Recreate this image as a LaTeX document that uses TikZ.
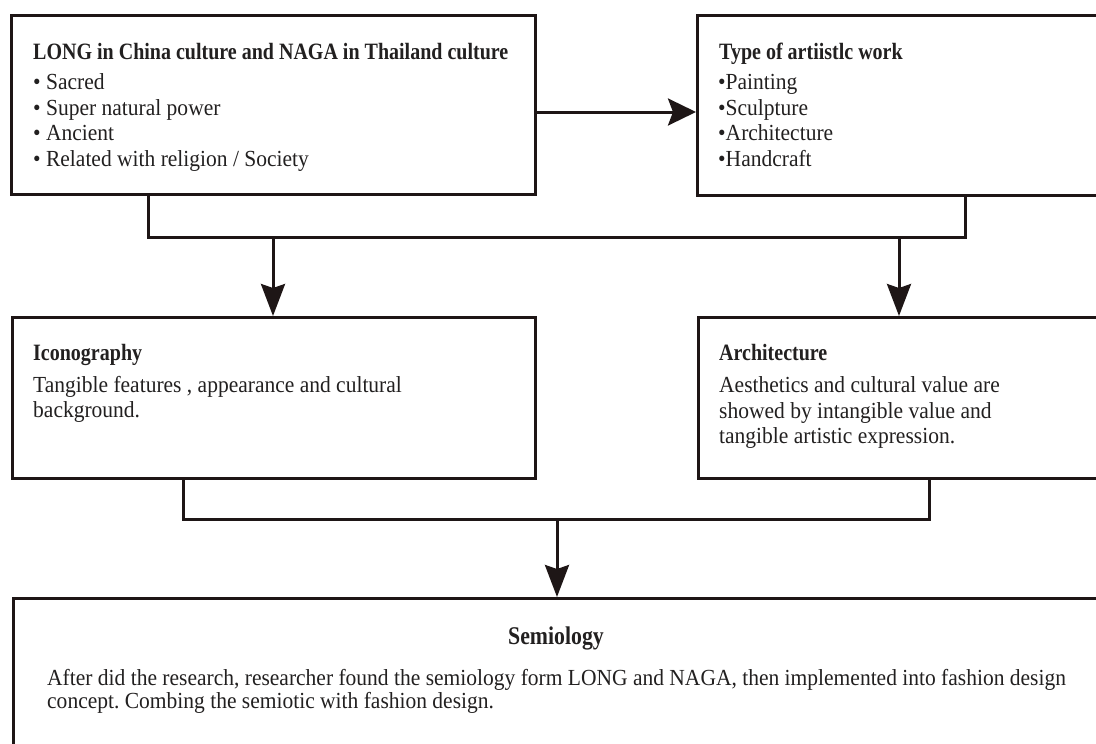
\documentclass[tikz,border=0pt]{standalone}
\usepackage{fontspec}
\setmainfont{Liberation Serif}[FakeStretch=0.935, BoldFeatures={FakeStretch=0.855}]
\usetikzlibrary{arrows.meta}
\frenchspacing

\definecolor{ink}{RGB}{30,22,22}
\definecolor{txt}{RGB}{34,32,32}

\newcommand{\headfont}{\bfseries\fontsize{23.4}{25}\selectfont}
\newcommand{\bigheadfont}{\bfseries\fontsize{25.5}{27}\selectfont}
\newcommand{\bodyfont}{\fontsize{23}{25}\selectfont}

\tikzset{
  box/.style={draw=ink, line width=3pt, rectangle, inner sep=0pt, anchor=north west},
  head/.style={anchor=base west, inner sep=0pt, text=txt, font=\headfont},
  body/.style={anchor=base west, inner sep=0pt, text=txt, font=\bodyfont},
  link/.style={draw=ink, line width=3pt, line join=miter},
  arr/.style={link, -{Stealth[length=32pt, width=24pt, inset=4pt]}},
  sidearr/.style={link, -{Stealth[length=28pt, width=27pt, inset=5pt]}},
}

\begin{document}
\begin{tikzpicture}[x=1pt, y=-1pt]
  \useasboundingbox (0,0) rectangle (1096,744);
  \fill[white] (0,0) rectangle (1096,744);
  \clip (0,0) rectangle (1096,744);

  % boxes
  \node[box, minimum width=524pt, minimum height=179pt] (b1) at (10,14) {};
  \node[box, minimum width=420pt, minimum height=180pt] (b2) at (696,14) {};
  \node[box, minimum width=523pt, minimum height=161pt] (b3) at (11,316) {};
  \node[box, minimum width=420pt, minimum height=161pt] (b4) at (697,316) {};
  \node[box, minimum width=1110pt, minimum height=180pt] (b5) at (12,597) {};

  % junction points of the connectors
  \coordinate (row) at (600,112);
  \coordinate (j1) at (148,237);
  \coordinate (j2) at (965,237);
  \coordinate (d3) at (273,237);
  \coordinate (d4) at (899,237);
  \coordinate (k1) at (183,519);
  \coordinate (k2) at (929,519);
  \coordinate (d5) at (557,519);

  % connectors
  \draw[sidearr] (b1.east |- row) -- (b2.west |- row);
  \draw[link] (b1.south -| j1) -- (j1) -- (j2) -- (b2.south -| j2);
  \draw[arr] (d3) -- (b3.north -| d3);
  \draw[arr] (d4) -- (b4.north -| d4);
  \draw[link] (b3.south -| k1) -- (k1) -- (k2) -- (b4.south -| k2);
  \draw[arr] (d5) -- (b5.north -| d5);

  % LONG / NAGA
  \node[head] (h1) at (33,59) {LONG in China culture and NAGA in Thailand culture};
  \node[body] (l11) at (33,89) {• Sacred};
  \node[body] (l12) at (33,115) {• Super natural power};
  \node[body] (l13) at (33,140) {• Ancient};
  \node[body] (l14) at (33,166) {• Related with religion / Society};

  % type of work
  \node[head] (h2) at (719,59) {Type of artiistlc work};
  \node[body] (l21) at (718,89) {•Painting};
  \node[body] (l22) at (718,115) {•Sculpture};
  \node[body] (l23) at (718,140) {•Architecture};
  \node[body] (l24) at (718,166) {•Handcraft};

  % iconography
  \node[head] (h3) at (33,360) {Iconography};
  \node[body] (l31) at (33,392) {Tangible features , appearance and cultural};
  \node[body] (l32) at (33,417) {background.};

  % architecture
  \node[head] (h4) at (719,360) {Architecture};
  \node[body] (l41) at (719,392) {Aesthetics and cultural value are};
  \node[body] (l42) at (719,418) {showed by intangible value and};
  \node[body] (l43) at (719,443) {tangible artistic expression.};

  % semiology
  \node[anchor=base, inner sep=0pt, text=txt, font=\bigheadfont] (h5) at (556,644) {Semiology};
  \node[body] (l51) at (47,685) {After did the research, researcher found the semiology form LONG and NAGA, then implemented into fashion design};
  \node[body] (l52) at (47,708) {concept. Combing the semiotic with fashion design.};
\end{tikzpicture}
\end{document}
